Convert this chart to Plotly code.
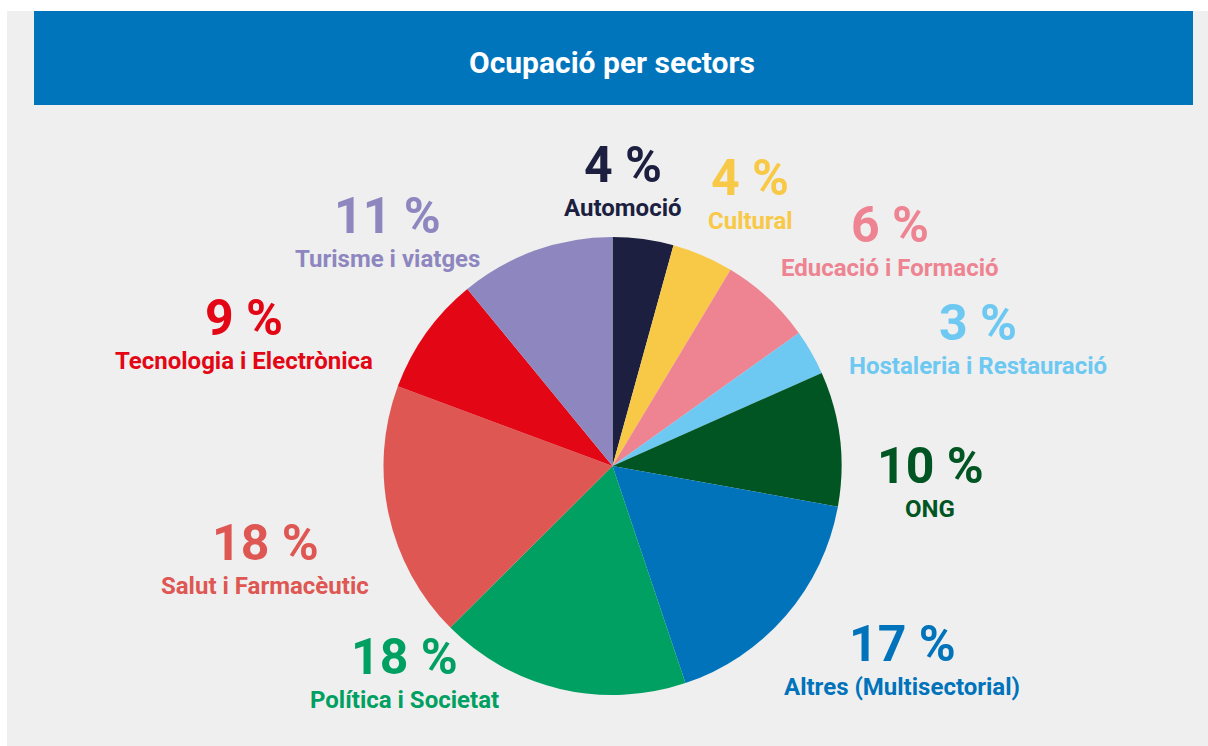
import plotly.graph_objects as go

W, H = 1208, 746

sectors = ['Automoció', 'Cultural', 'Educació i Formació', 'Hostaleria i Restauració', 'ONG',
           'Altres (Multisectorial)', 'Política i Societat', 'Salut i Farmacèutic',
           'Tecnologia i Electrònica', 'Turisme i viatges']
# percent printed on the chart
percent = [4, 4, 6, 3, 10, 17, 18, 18, 9, 11]
# slice sizes
share = [4.29, 4.33, 6.51, 3.21, 9.50, 17.00, 17.69, 18.13, 8.41, 10.93]
colors = ['#1c1f3f', '#f8c947', '#ee8392', '#6dc8f2', '#005523',
          '#0073bb', '#00a062', '#de5753', '#e30614', '#8e87bf']

# label centres in pixels (x, y of the percent line)
label_pos = [(623, 165), (750, 178), (890, 225), (978, 323), (930, 466),
             (902, 644), (404, 657), (265, 543), (244, 318), (388, 216)]

cx, cy, r = 612.5, 466, 229

fig = go.Figure(go.Pie(
    labels=sectors, values=share, sort=False, direction='clockwise', rotation=0,
    marker=dict(colors=colors, line=dict(width=0)),
    textinfo='none', hoverinfo='label', showlegend=False,
    domain=dict(x=[(cx - r) / W, (cx + r) / W], y=[(H - cy - r) / H, (H - cy + r) / H]),
))

# grey panel and blue header
fig.add_shape(type='rect', xref='paper', yref='paper', x0=7 / W, x1=1, y0=0, y1=1 - 11 / H,
              fillcolor='#efefef', line_width=0, layer='below')
fig.add_shape(type='rect', xref='paper', yref='paper', x0=34 / W, x1=1193 / W,
              y0=1 - 105 / H, y1=1 - 11 / H, fillcolor='#0075bc', line_width=0, layer='below')


def label(text, px, py, size, color):
    fig.add_annotation(text=text, x=px / W, y=1 - py / H, xref='paper', yref='paper',
                       xanchor='center', yanchor='middle', showarrow=False,
                       font=dict(family='Roboto', size=size, color=color))


label('<b>Ocupació per sectors</b>', 612, 63, 30, 'white')

for name, p, c, (lx, ly) in zip(sectors, percent, colors, label_pos):
    label(f'<b>{p} %</b>', lx, ly, 50, c)
    label(f'<b>{name}</b>', lx, ly + 43, 24, c)

fig.update_layout(width=W, height=H, margin=dict(l=0, r=0, t=0, b=0),
                  paper_bgcolor='white', plot_bgcolor='white')

fig.write_html('out.html', config={'displayModeBar': False},
               post_script="document.body.style.margin='0';document.body.style.overflow='hidden';")
